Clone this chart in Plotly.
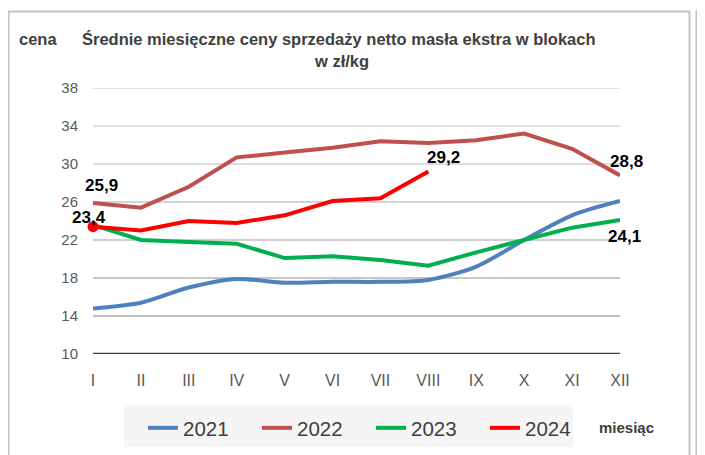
import plotly.graph_objects as go

months = ["I", "II", "III", "IV", "V", "VI", "VII", "VIII", "IX", "X", "XI", "XII"]
y2021 = [14.8, 15.4, 17.0, 17.9, 17.5, 17.6, 17.6, 17.8, 19.2, 22.0, 24.6, 26.1]
y2022 = [25.9, 25.4, 27.6, 30.7, 31.2, 31.7, 32.4, 32.2, 32.5, 33.2, 31.6, 28.8]
y2023 = [23.6, 22.0, 21.8, 21.6, 20.1, 20.3, 19.9, 19.3, 20.7, 22.0, 23.3, 24.1]
y2024 = [23.4, 23.0, 24.0, 23.8, 24.6, 26.1, 26.4, 29.2]
y_ticks = [10, 14, 18, 22, 26, 30, 34, 38]

W, H = 705, 455
OFF = 8  # page body margin
# plot area in screen pixels
SL, SR, ST, SB = 93, 620, 88, 354
L, T = SL - OFF, ST - OFF
R, B = W - (SR - OFF), H - (SB - OFF)
pw, ph = SR - SL, SB - ST

def px(xs):
    return (xs - SL) / pw

def py(ys):
    return (SB - ys) / ph

FONT = "Liberation Sans, Arial"
fig = go.Figure()

grid_colors = {38: "#D9D9D9", 34: "#D9D9D9", 30: "#D3D3D3", 26: "#C4C4C4",
               22: "#BFBFBF", 18: "#B5B5B5", 14: "#A8A8A8"}
for v in y_ticks:
    if v == y_ticks[0]:
        line = dict(color="#404040", width=2.5)
    else:
        line = dict(color=grid_colors[v], width=1.5)
    fig.add_shape(type="line", xref="x", yref="y", x0=0, x1=len(months) - 1, y0=v, y1=v,
                  line=line, layer="below")

xi = list(range(len(months)))
fig.add_trace(go.Scatter(x=xi, y=y2021, mode="lines", name="2021",
                         line=dict(color="#4F81BD", width=4, shape="spline", smoothing=0.8),
                         cliponaxis=False))
fig.add_trace(go.Scatter(x=xi, y=y2022, mode="lines", name="2022",
                         line=dict(color="#C0504D", width=4), cliponaxis=False))
fig.add_trace(go.Scatter(x=xi, y=y2023, mode="lines", name="2023",
                         line=dict(color="#00B050", width=4), cliponaxis=False))
fig.add_trace(go.Scatter(x=xi[:len(y2024)], y=y2024, mode="lines", name="2024",
                         line=dict(color="#FF0000", width=4), cliponaxis=False))
fig.add_trace(go.Scatter(x=[0], y=[y2024[0]], mode="markers", showlegend=False,
                         marker=dict(color="#FF0000", size=11), cliponaxis=False))

lab_font = dict(family=FONT, size=17, color="#000000")

def lab(x, y, text, xs, ys):
    fig.add_annotation(x=x, y=y, xref="x", yref="y", text="<b>%s</b>" % text,
                       showarrow=False, xshift=xs, yshift=ys, font=lab_font)

lab(0, y2022[0], "25,9", 8, 17)
lab(0, y2024[0], "23,4", -4, 9)
lab(len(y2024) - 1, y2024[-1], "29,2", 15, 14)
lab(11, y2022[-1], "28,8", 6, 14)
lab(11, y2023[-1], "24,1", 4, -16)

def text_at(xs, ys, text, size, anchor="center"):
    fig.add_annotation(xref="paper", yref="paper", x=px(xs), y=py(ys), xanchor=anchor,
                       yanchor="middle", showarrow=False, text=text,
                       font=dict(family=FONT, size=size, color="#404040"))

text_at(17, 39, "<b>cena</b>", 16.5, "left")
text_at(80, 39, "<b>Średnie miesięczne ceny sprzedaży netto masła ekstra w blokach</b>", 16.5, "left")
text_at(341, 61, "<b>w zł/kg</b>", 16.5)
text_at(626, 427, "<b>miesiąc</b>", 15)

# frame borders
fig.add_shape(type="rect", xref="paper", yref="paper", x0=px(8.5), x1=px(689.5), y0=py(480), y1=py(11.5),
              line=dict(color="#C4C4C4", width=2), layer="below")
fig.add_shape(type="line", xref="paper", yref="paper", x0=px(696.5), x1=px(696.5), y0=py(480), y1=py(10.5),
              line=dict(color="#C4C4C4", width=2))
fig.add_shape(type="line", xref="paper", yref="paper", x0=px(696.5), x1=px(720), y0=py(10.5), y1=py(10.5),
              line=dict(color="#C4C4C4", width=2))
# legend background
fig.add_shape(type="rect", xref="paper", yref="paper", x0=px(124), x1=px(573), y0=py(447), y1=py(405),
              fillcolor="#F5F5F5", line=dict(width=0), layer="below")

fig.update_layout(
    width=W, height=H, autosize=False,
    margin=dict(l=L, r=R, t=T, b=B),
    paper_bgcolor="white", plot_bgcolor="white",
    showlegend=True,
    legend=dict(orientation="h", x=px(143), y=py(408), xanchor="left", yanchor="top",
                bgcolor="rgba(0,0,0,0)", font=dict(family=FONT, size=20.5, color="#404040"),
                itemwidth=30, tracegroupgap=0, entrywidth=69, entrywidthmode="pixels"),
    xaxis=dict(range=[0, 11], tickmode="array", tickvals=xi, ticktext=months,
               showgrid=False, zeroline=False, showline=False,
               ticks="outside", ticklen=12, tickcolor="rgba(0,0,0,0)",
               tickfont=dict(family=FONT, size=16, color="#595959")),
    yaxis=dict(range=[10, 38], tickmode="array", tickvals=y_ticks,
               showgrid=False, zeroline=False, showline=False,
               ticks="outside", ticklen=11, tickcolor="rgba(0,0,0,0)",
               tickfont=dict(family=FONT, size=15, color="#595959")),
)

fig.write_html("out.html")
